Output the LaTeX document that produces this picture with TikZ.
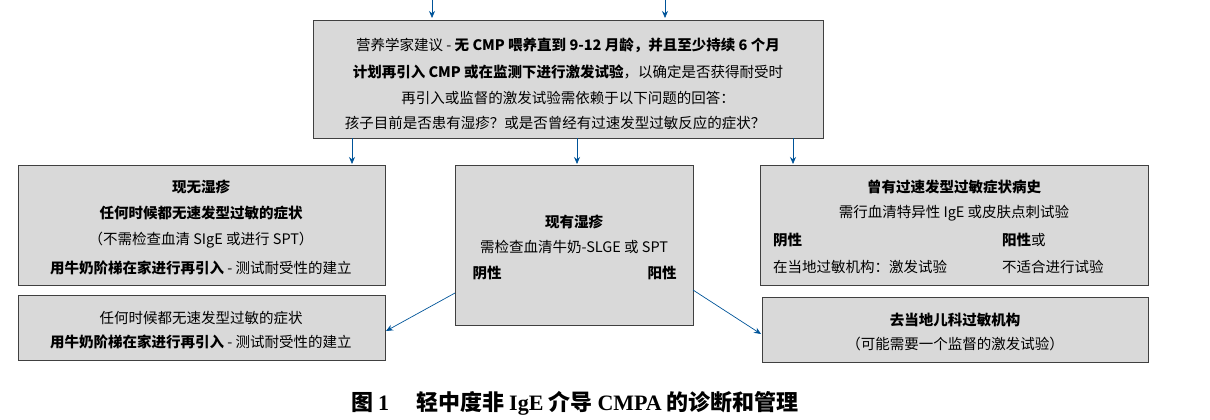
\documentclass[tikz,border=0pt]{standalone}
\usepackage{fontspec}
\setmainfont{Noto Sans CJK SC}
\newfontfamily\capfont{Liberation Serif}
\usetikzlibrary{arrows.meta}
\begin{document}
\begin{tikzpicture}[x=1pt,y=-1pt,
  box/.style={draw=black!75,fill=black!15,line width=0.8pt},
  t/.style={font=\fontsize{14.5}{16}\selectfont,inner sep=0pt,anchor=center},
  tl/.style={t,anchor=west},
  arr/.style={-{Stealth[length=7pt,width=6pt]},draw=blue!45!cyan!60!black,line width=0.7pt}]
\useasboundingbox (0,0) rectangle (1210,420);
\draw[box] (313,20) rectangle (823,138);
\draw[box] (18,165) rectangle (385,285);
\draw[box] (455,165) rectangle (693,325);
\draw[box] (760,165) rectangle (1148,285);
\draw[box] (18,295) rectangle (385,360);
\draw[box] (762,297) rectangle (1148,362);
\coordinate (i1) at (432,0); \coordinate (i1e) at (432,18);
\coordinate (i2) at (665,0); \coordinate (i2e) at (665,18);
\draw[arr] (i1)--(i1e); \draw[arr] (i2)--(i2e);
\foreach \x in {352,577,793}{\draw[arr] (\x,138)--(\x,164);}
\coordinate (m1) at (455,293); \coordinate (l2) at (386,331);
\coordinate (m2) at (693,290); \coordinate (r2) at (761,334);
\draw[arr] (m1)--(l2); \draw[arr] (m2)--(r2);
\node[t] (a1) at (568,45) {营养学家建议 - \textbf{无 CMP 喂养直到 9-12 月龄，并且至少持续 6 个月}};
\node[t] (a2) at (568,72) {\textbf{计划再引入 CMP 或在监测下进行激发试验}，以确定是否获得耐受时};
\node[t] (a3) at (568,98) {再引入或监督的激发试验需依赖于以下问题的回答：};
\node[t] (a4) at (555,123) {孩子目前是否患有湿疹？或是否曾经有过速发型过敏反应的症状？};
\node[t] (b1) at (201,187) {\textbf{现无湿疹}};
\node[t] (b2) at (201,213) {\textbf{任何时候都无速发型过敏的症状}};
\node[t] (b3) at (201,240) {（不需检查血清 SIgE 或进行 SPT）};
\node[t] (b4) at (201,268) {\textbf{用牛奶阶梯在家进行再引入} - 测试耐受性的建立};
\node[t] (c1) at (574,222) {\textbf{现有湿疹}};
\node[t] (c2) at (574,247) {需检查血清牛奶-SLGE 或 SPT};
\node[t] (c3) at (487,273) {\textbf{阴性}};
\node[t] (c4) at (662,273) {\textbf{阳性}};
\node[t] (d1) at (954,187) {\textbf{曾有过速发型过敏症状病史}};
\node[t] (d2) at (954,213) {需行血清特异性 IgE 或皮肤点刺试验};
\node[tl] (d3) at (773,240) {\textbf{阴性}};
\node[tl] (d4) at (1002,240) {\textbf{阳性}或};
\node[tl] (d5) at (773,267) {在当地过敏机构：激发试验};
\node[tl] (d6) at (1002,267) {不适合进行试验};
\node[t] (e1) at (201,318) {任何时候都无速发型过敏的症状};
\node[t] (e2) at (201,342) {\textbf{用牛奶阶梯在家进行再引入} - 测试耐受性的建立};
\node[t] (f1) at (955,320) {\textbf{去当地儿科过敏机构}};
\node[t] (f2) at (955,344) {（可能需要一个监督的激发试验）};
\node[t,font=\fontsize{22}{24}\selectfont\bfseries] (cap) at (575,403) {图 {\capfont\bfseries 1}\quad\ 轻中度非 {\capfont\bfseries IgE} 介导 {\capfont\bfseries CMPA} 的诊断和管理};
\end{tikzpicture}
\end{document}
